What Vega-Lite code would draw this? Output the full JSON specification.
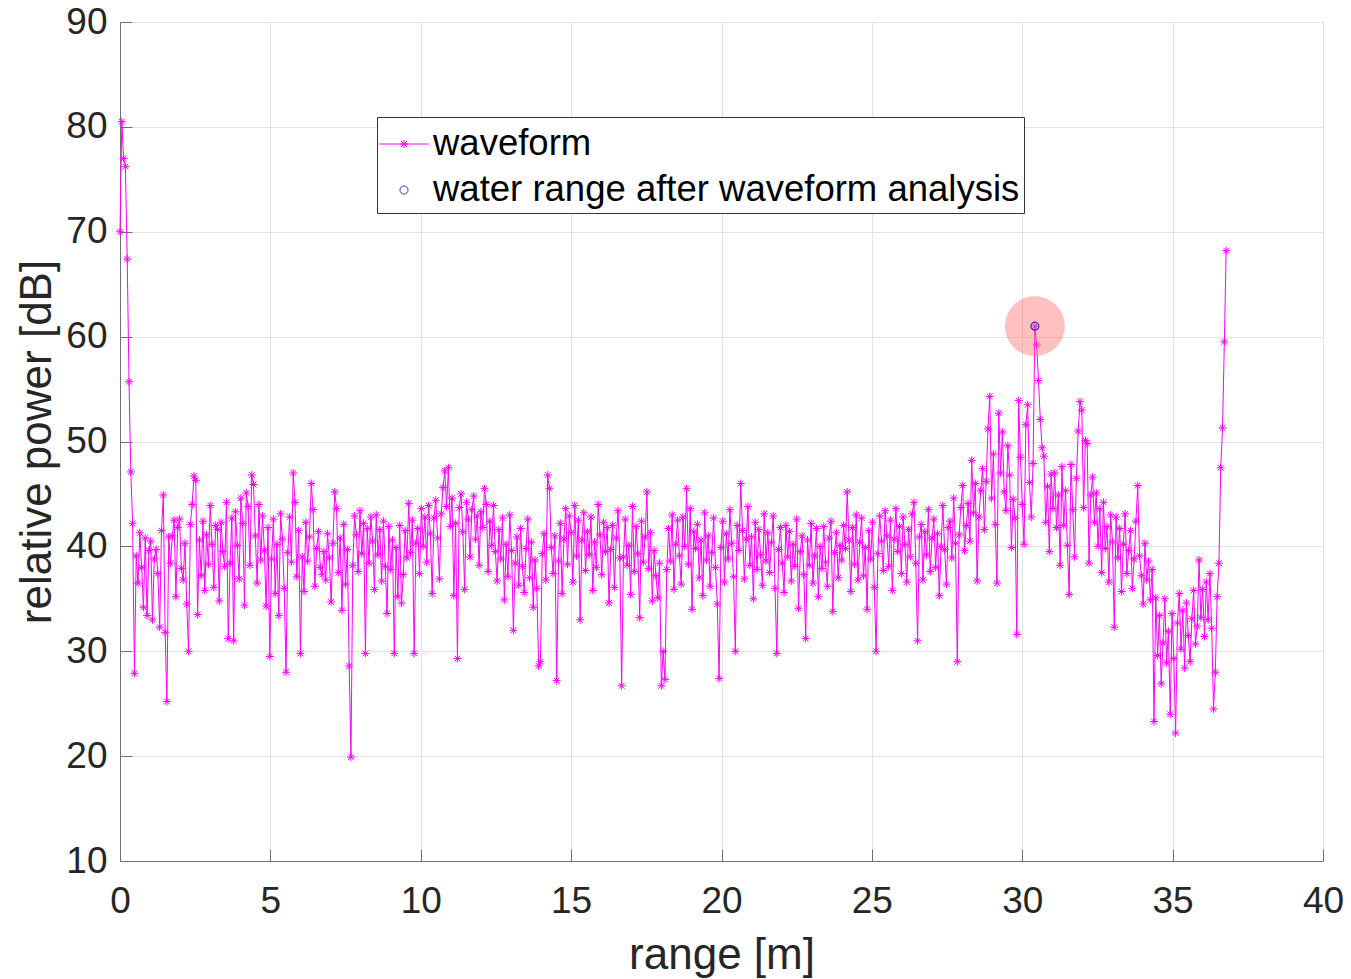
{
"$schema": "https://vega.github.io/schema/vega-lite/v6.json",
"width": 1203, "height": 839,
"autosize": {"type": "none"},
"padding": {"left": 120, "top": 22, "right": 28, "bottom": 118},
"background": "white",
"config": {
  "view": {"stroke": "#707070", "strokeWidth": 1},
  "font": "Liberation Sans",
  "axis": {"labelFont": "Liberation Sans", "titleFont": "Liberation Sans", "labelColor": "#262626", "titleColor": "#262626", "titleFontWeight": "normal", "gridColor": "#e3e3e3", "gridWidth": 1, "domainColor": "#707070", "tickColor": "#707070", "tickSize": -12, "labelFontSize": 37, "titleFontSize": 44}
},
"datasets": {
"wave": [
{"r":0,"p":70.0},{"r":0.06,"p":80.5},{"r":0.12,"p":77.0},{"r":0.18,"p":76.2},{"r":0.24,"p":67.4},{"r":0.3,"p":55.7},{"r":0.36,"p":47.1},{"r":0.42,"p":42.2},{"r":0.48,"p":27.9},{"r":0.54,"p":39.1},
{"r":0.6,"p":36.5},{"r":0.66,"p":41.3},{"r":0.72,"p":38.0},{"r":0.78,"p":34.2},{"r":0.84,"p":40.8},{"r":0.9,"p":33.4},{"r":0.96,"p":39.6},{"r":1.02,"p":40.5},{"r":1.08,"p":33.0},{"r":1.14,"p":38.8},
{"r":1.2,"p":39.7},{"r":1.26,"p":37.4},{"r":1.32,"p":32.3},{"r":1.38,"p":41.5},{"r":1.44,"p":44.9},{"r":1.5,"p":31.8},{"r":1.56,"p":25.2},{"r":1.62,"p":40.9},{"r":1.68,"p":38.4},{"r":1.74,"p":41.0},
{"r":1.8,"p":42.5},{"r":1.86,"p":35.2},{"r":1.92,"p":41.8},{"r":1.98,"p":42.6},{"r":2.04,"p":37.9},{"r":2.1,"p":36.8},{"r":2.16,"p":40.3},{"r":2.22,"p":34.5},{"r":2.28,"p":30.0},{"r":2.34,"p":42.1},
{"r":2.4,"p":44.0},{"r":2.46,"p":46.7},{"r":2.52,"p":46.3},{"r":2.58,"p":33.5},{"r":2.64,"p":40.6},{"r":2.7,"p":37.2},{"r":2.76,"p":42.4},{"r":2.82,"p":35.8},{"r":2.88,"p":41.1},{"r":2.94,"p":38.3},
{"r":3.0,"p":43.9},{"r":3.06,"p":40.2},{"r":3.12,"p":36.1},{"r":3.18,"p":42.0},{"r":3.24,"p":41.6},{"r":3.3,"p":34.8},{"r":3.36,"p":42.3},{"r":3.42,"p":39.5},{"r":3.48,"p":38.1},{"r":3.54,"p":44.2},
{"r":3.6,"p":31.2},{"r":3.66,"p":38.4},{"r":3.72,"p":42.7},{"r":3.78,"p":31.0},{"r":3.84,"p":43.3},{"r":3.9,"p":40.1},{"r":3.96,"p":36.9},{"r":4.02,"p":44.6},{"r":4.08,"p":42.2},{"r":4.14,"p":34.4},
{"r":4.2,"p":45.1},{"r":4.26,"p":43.8},{"r":4.32,"p":38.2},{"r":4.38,"p":46.8},{"r":4.44,"p":45.9},{"r":4.5,"p":41.0},{"r":4.56,"p":36.5},{"r":4.62,"p":44.0},{"r":4.68,"p":38.7},{"r":4.74,"p":42.9},
{"r":4.8,"p":39.6},{"r":4.86,"p":34.3},{"r":4.92,"p":41.8},{"r":4.98,"p":29.5},{"r":5.04,"p":38.8},{"r":5.1,"p":42.6},{"r":5.16,"p":35.5},{"r":5.22,"p":40.2},{"r":5.28,"p":33.4},{"r":5.34,"p":43.1},
{"r":5.4,"p":40.7},{"r":5.46,"p":36.0},{"r":5.52,"p":28.0},{"r":5.58,"p":39.4},{"r":5.64,"p":42.8},{"r":5.7,"p":38.5},{"r":5.76,"p":47.0},{"r":5.82,"p":44.2},{"r":5.88,"p":37.1},{"r":5.94,"p":41.5},
{"r":6.0,"p":29.8},{"r":6.06,"p":39.0},{"r":6.12,"p":35.7},{"r":6.18,"p":42.3},{"r":6.24,"p":38.6},{"r":6.3,"p":40.9},{"r":6.36,"p":46.0},{"r":6.42,"p":43.5},{"r":6.48,"p":36.2},{"r":6.54,"p":39.8},
{"r":6.6,"p":41.4},{"r":6.66,"p":38.0},{"r":6.72,"p":37.3},{"r":6.78,"p":39.5},{"r":6.84,"p":36.8},{"r":6.9,"p":41.2},{"r":6.96,"p":38.9},{"r":7.02,"p":34.7},{"r":7.08,"p":40.3},{"r":7.14,"p":45.2},
{"r":7.2,"p":43.6},{"r":7.26,"p":37.5},{"r":7.32,"p":40.8},{"r":7.38,"p":33.9},{"r":7.44,"p":42.1},{"r":7.5,"p":36.4},{"r":7.56,"p":39.7},{"r":7.62,"p":28.6},{"r":7.68,"p":19.9},{"r":7.74,"p":38.2},
{"r":7.8,"p":42.9},{"r":7.86,"p":41.1},{"r":7.92,"p":37.6},{"r":7.98,"p":43.4},{"r":8.04,"p":39.3},{"r":8.1,"p":42.2},{"r":8.16,"p":29.8},{"r":8.22,"p":41.7},{"r":8.28,"p":38.4},{"r":8.34,"p":42.8},
{"r":8.4,"p":40.5},{"r":8.46,"p":35.9},{"r":8.52,"p":43.0},{"r":8.58,"p":39.2},{"r":8.64,"p":41.6},{"r":8.7,"p":36.7},{"r":8.76,"p":42.4},{"r":8.82,"p":38.1},{"r":8.88,"p":33.6},{"r":8.94,"p":41.9},
{"r":9.0,"p":37.8},{"r":9.06,"p":40.6},{"r":9.12,"p":29.8},{"r":9.18,"p":39.9},{"r":9.24,"p":35.2},{"r":9.3,"p":42.0},{"r":9.36,"p":34.6},{"r":9.42,"p":37.3},{"r":9.48,"p":41.5},{"r":9.54,"p":38.9},
{"r":9.6,"p":44.1},{"r":9.66,"p":39.4},{"r":9.72,"p":42.5},{"r":9.78,"p":29.8},{"r":9.84,"p":40.3},{"r":9.9,"p":41.7},{"r":9.96,"p":37.4},{"r":10.02,"p":43.6},{"r":10.08,"p":40.0},{"r":10.14,"p":42.8},
{"r":10.2,"p":38.5},{"r":10.26,"p":43.9},{"r":10.32,"p":41.2},{"r":10.38,"p":35.5},{"r":10.44,"p":42.7},{"r":10.5,"p":44.4},{"r":10.56,"p":40.8},{"r":10.62,"p":36.9},{"r":10.68,"p":43.1},{"r":10.74,"p":45.6},
{"r":10.8,"p":47.2},{"r":10.86,"p":43.8},{"r":10.92,"p":47.5},{"r":10.98,"p":41.9},{"r":11.04,"p":44.6},{"r":11.1,"p":35.3},{"r":11.16,"p":42.2},{"r":11.22,"p":29.3},{"r":11.28,"p":43.7},{"r":11.34,"p":45.0},
{"r":11.4,"p":41.4},{"r":11.46,"p":35.9},{"r":11.52,"p":44.2},{"r":11.58,"p":42.6},{"r":11.64,"p":39.0},{"r":11.7,"p":43.5},{"r":11.76,"p":44.8},{"r":11.82,"p":40.7},{"r":11.88,"p":42.9},{"r":11.94,"p":38.2},
{"r":12.0,"p":43.3},{"r":12.06,"p":41.8},{"r":12.12,"p":45.5},{"r":12.18,"p":44.0},{"r":12.24,"p":37.6},{"r":12.3,"p":42.4},{"r":12.36,"p":40.1},{"r":12.42,"p":43.9},{"r":12.48,"p":39.5},{"r":12.54,"p":36.7},
{"r":12.6,"p":41.6},{"r":12.66,"p":38.8},{"r":12.72,"p":42.7},{"r":12.78,"p":34.9},{"r":12.84,"p":40.2},{"r":12.9,"p":37.1},{"r":12.96,"p":43.0},{"r":13.02,"p":39.6},{"r":13.08,"p":32.0},{"r":13.14,"p":38.4},
{"r":13.2,"p":40.9},{"r":13.26,"p":36.3},{"r":13.32,"p":41.7},{"r":13.38,"p":38.1},{"r":13.44,"p":35.6},{"r":13.5,"p":39.8},{"r":13.56,"p":42.6},{"r":13.62,"p":37.0},{"r":13.68,"p":40.4},{"r":13.74,"p":34.2},
{"r":13.8,"p":38.7},{"r":13.86,"p":36.0},{"r":13.92,"p":28.6},{"r":13.98,"p":29.0},{"r":14.04,"p":39.3},{"r":14.1,"p":41.2},{"r":14.16,"p":36.8},{"r":14.22,"p":46.8},{"r":14.28,"p":45.5},{"r":14.34,"p":39.9},
{"r":14.4,"p":37.4},{"r":14.46,"p":41.0},{"r":14.52,"p":27.2},{"r":14.58,"p":38.6},{"r":14.64,"p":42.2},{"r":14.7,"p":35.5},{"r":14.76,"p":40.7},{"r":14.82,"p":43.6},{"r":14.88,"p":38.3},{"r":14.94,"p":42.9},
{"r":15.0,"p":41.3},{"r":15.06,"p":36.6},{"r":15.12,"p":43.9},{"r":15.18,"p":39.1},{"r":15.24,"p":42.5},{"r":15.3,"p":33.0},{"r":15.36,"p":40.6},{"r":15.42,"p":43.2},{"r":15.48,"p":37.7},{"r":15.54,"p":41.4},
{"r":15.6,"p":39.2},{"r":15.66,"p":42.8},{"r":15.72,"p":35.8},{"r":15.78,"p":40.4},{"r":15.84,"p":38.0},{"r":15.9,"p":44.0},{"r":15.96,"p":41.1},{"r":16.02,"p":37.3},{"r":16.08,"p":42.3},{"r":16.14,"p":39.5},
{"r":16.2,"p":41.8},{"r":16.26,"p":34.6},{"r":16.32,"p":39.7},{"r":16.38,"p":42.0},{"r":16.44,"p":36.1},{"r":16.5,"p":40.8},{"r":16.56,"p":43.4},{"r":16.62,"p":38.9},{"r":16.68,"p":26.7},{"r":16.74,"p":39.0},
{"r":16.8,"p":42.6},{"r":16.86,"p":38.2},{"r":16.92,"p":40.1},{"r":16.98,"p":35.4},{"r":17.04,"p":43.8},{"r":17.1,"p":37.6},{"r":17.16,"p":41.9},{"r":17.22,"p":39.3},{"r":17.28,"p":33.2},{"r":17.34,"p":42.4},
{"r":17.4,"p":38.5},{"r":17.46,"p":40.9},{"r":17.52,"p":45.2},{"r":17.58,"p":37.9},{"r":17.64,"p":41.3},{"r":17.7,"p":34.8},{"r":17.76,"p":39.6},{"r":17.82,"p":37.2},{"r":17.88,"p":35.1},{"r":17.94,"p":38.4},
{"r":18.0,"p":26.7},{"r":18.06,"p":30.0},{"r":18.12,"p":27.3},{"r":18.18,"p":37.8},{"r":18.24,"p":41.7},{"r":18.3,"p":38.6},{"r":18.36,"p":43.0},{"r":18.42,"p":35.9},{"r":18.48,"p":40.2},{"r":18.54,"p":42.5},
{"r":18.6,"p":39.1},{"r":18.66,"p":36.4},{"r":18.72,"p":42.8},{"r":18.78,"p":40.0},{"r":18.84,"p":45.5},{"r":18.9,"p":38.3},{"r":18.96,"p":43.6},{"r":19.02,"p":34.0},{"r":19.08,"p":41.4},{"r":19.14,"p":39.8},
{"r":19.2,"p":42.1},{"r":19.26,"p":37.0},{"r":19.32,"p":40.6},{"r":19.38,"p":35.3},{"r":19.44,"p":43.2},{"r":19.5,"p":38.7},{"r":19.56,"p":41.0},{"r":19.62,"p":36.2},{"r":19.68,"p":39.4},{"r":19.74,"p":42.7},
{"r":19.8,"p":38.0},{"r":19.86,"p":34.5},{"r":19.92,"p":27.4},{"r":19.98,"p":39.9},{"r":20.04,"p":42.4},{"r":20.1,"p":36.6},{"r":20.16,"p":41.2},{"r":20.22,"p":38.8},{"r":20.28,"p":43.5},{"r":20.34,"p":40.3},
{"r":20.4,"p":37.1},{"r":20.46,"p":30.0},{"r":20.52,"p":42.0},{"r":20.58,"p":39.6},{"r":20.64,"p":46.0},{"r":20.7,"p":41.5},{"r":20.76,"p":36.9},{"r":20.82,"p":40.7},{"r":20.88,"p":43.8},{"r":20.94,"p":38.2},
{"r":21.0,"p":40.9},{"r":21.06,"p":35.0},{"r":21.12,"p":42.3},{"r":21.18,"p":37.8},{"r":21.24,"p":41.6},{"r":21.3,"p":39.2},{"r":21.36,"p":36.3},{"r":21.42,"p":43.1},{"r":21.48,"p":38.6},{"r":21.54,"p":41.3},
{"r":21.6,"p":37.5},{"r":21.66,"p":40.4},{"r":21.72,"p":42.9},{"r":21.78,"p":36.0},{"r":21.84,"p":29.8},{"r":21.9,"p":39.7},{"r":21.96,"p":41.8},{"r":22.02,"p":38.4},{"r":22.08,"p":35.6},{"r":22.14,"p":42.0},
{"r":22.2,"p":39.0},{"r":22.26,"p":41.4},{"r":22.32,"p":36.7},{"r":22.38,"p":40.2},{"r":22.44,"p":38.1},{"r":22.5,"p":42.6},{"r":22.56,"p":34.1},{"r":22.62,"p":39.5},{"r":22.68,"p":41.0},{"r":22.74,"p":37.3},
{"r":22.8,"p":31.2},{"r":22.86,"p":40.6},{"r":22.92,"p":38.2},{"r":22.98,"p":42.2},{"r":23.04,"p":36.5},{"r":23.1,"p":39.1},{"r":23.16,"p":41.7},{"r":23.22,"p":35.2},{"r":23.28,"p":40.0},{"r":23.34,"p":37.9},
{"r":23.4,"p":41.9},{"r":23.46,"p":38.5},{"r":23.52,"p":36.2},{"r":23.58,"p":40.8},{"r":23.64,"p":42.4},{"r":23.7,"p":33.8},{"r":23.76,"p":39.4},{"r":23.82,"p":41.3},{"r":23.88,"p":37.0},{"r":23.94,"p":40.1},
{"r":24.0,"p":38.7},{"r":24.06,"p":42.0},{"r":24.12,"p":39.8},{"r":24.18,"p":45.2},{"r":24.24,"p":40.6},{"r":24.3,"p":35.7},{"r":24.36,"p":41.8},{"r":24.42,"p":38.3},{"r":24.48,"p":43.0},{"r":24.54,"p":36.8},
{"r":24.6,"p":40.4},{"r":24.66,"p":42.7},{"r":24.72,"p":37.2},{"r":24.78,"p":39.9},{"r":24.84,"p":34.0},{"r":24.9,"p":41.5},{"r":24.96,"p":38.8},{"r":25.02,"p":42.3},{"r":25.08,"p":36.1},{"r":25.14,"p":30.0},
{"r":25.2,"p":39.3},{"r":25.26,"p":42.9},{"r":25.32,"p":40.5},{"r":25.38,"p":37.7},{"r":25.44,"p":43.4},{"r":25.5,"p":41.0},{"r":25.56,"p":38.1},{"r":25.62,"p":42.5},{"r":25.68,"p":35.8},{"r":25.74,"p":40.7},
{"r":25.8,"p":43.6},{"r":25.86,"p":39.5},{"r":25.92,"p":41.9},{"r":25.98,"p":37.4},{"r":26.04,"p":42.8},{"r":26.1,"p":40.2},{"r":26.16,"p":36.6},{"r":26.22,"p":41.6},{"r":26.28,"p":39.0},{"r":26.34,"p":43.1},
{"r":26.4,"p":44.2},{"r":26.46,"p":38.4},{"r":26.52,"p":31.0},{"r":26.58,"p":40.9},{"r":26.64,"p":42.1},{"r":26.7,"p":36.8},{"r":26.76,"p":41.4},{"r":26.82,"p":39.2},{"r":26.88,"p":43.5},{"r":26.94,"p":37.6},
{"r":27.0,"p":40.8},{"r":27.06,"p":42.6},{"r":27.12,"p":38.0},{"r":27.18,"p":41.2},{"r":27.24,"p":35.3},{"r":27.3,"p":40.0},{"r":27.36,"p":43.9},{"r":27.42,"p":39.7},{"r":27.48,"p":36.4},{"r":27.54,"p":41.8},
{"r":27.6,"p":42.4},{"r":27.66,"p":38.9},{"r":27.72,"p":44.6},{"r":27.78,"p":40.3},{"r":27.84,"p":29.0},{"r":27.9,"p":41.1},{"r":27.96,"p":43.7},{"r":28.02,"p":45.8},{"r":28.08,"p":39.6},{"r":28.14,"p":42.0},
{"r":28.2,"p":44.1},{"r":28.26,"p":40.5},{"r":28.32,"p":48.2},{"r":28.38,"p":43.2},{"r":28.44,"p":46.0},{"r":28.5,"p":36.7},{"r":28.56,"p":42.8},{"r":28.62,"p":45.3},{"r":28.68,"p":47.4},{"r":28.74,"p":41.6},
{"r":28.8,"p":46.2},{"r":28.86,"p":51.2},{"r":28.92,"p":54.3},{"r":28.98,"p":44.6},{"r":29.04,"p":48.8},{"r":29.1,"p":42.1},{"r":29.16,"p":36.5},{"r":29.22,"p":52.7},{"r":29.28,"p":47.0},{"r":29.34,"p":50.9},
{"r":29.4,"p":45.2},{"r":29.46,"p":43.4},{"r":29.52,"p":49.6},{"r":29.58,"p":46.8},{"r":29.64,"p":39.9},{"r":29.7,"p":44.5},{"r":29.76,"p":42.7},{"r":29.82,"p":31.6},{"r":29.88,"p":53.9},{"r":29.94,"p":48.5},
{"r":30.0,"p":44.0},{"r":30.06,"p":40.2},{"r":30.12,"p":51.6},{"r":30.18,"p":53.5},{"r":30.24,"p":46.1},{"r":30.3,"p":42.8},{"r":30.36,"p":47.9},{"r":30.42,"p":61.0},{"r":30.48,"p":59.2},{"r":30.54,"p":55.8},
{"r":30.6,"p":52.1},{"r":30.66,"p":49.4},{"r":30.72,"p":48.6},{"r":30.78,"p":42.3},{"r":30.84,"p":45.7},{"r":30.9,"p":39.5},{"r":30.96,"p":46.9},{"r":31.02,"p":43.6},{"r":31.08,"p":47.0},{"r":31.14,"p":41.8},
{"r":31.2,"p":44.9},{"r":31.26,"p":38.2},{"r":31.32,"p":47.6},{"r":31.38,"p":42.0},{"r":31.44,"p":45.3},{"r":31.5,"p":40.1},{"r":31.56,"p":35.4},{"r":31.62,"p":47.8},{"r":31.68,"p":43.5},{"r":31.74,"p":39.0},
{"r":31.8,"p":46.5},{"r":31.86,"p":51.0},{"r":31.92,"p":53.8},{"r":31.98,"p":53.0},{"r":32.04,"p":43.7},{"r":32.1,"p":50.1},{"r":32.16,"p":49.8},{"r":32.22,"p":38.4},{"r":32.28,"p":44.9},{"r":32.34,"p":46.6},
{"r":32.4,"p":42.3},{"r":32.46,"p":45.1},{"r":32.52,"p":40.0},{"r":32.58,"p":43.6},{"r":32.64,"p":37.5},{"r":32.7,"p":44.2},{"r":32.76,"p":39.8},{"r":32.82,"p":41.9},{"r":32.88,"p":36.6},{"r":32.94,"p":43.0},
{"r":33.0,"p":40.4},{"r":33.06,"p":32.3},{"r":33.12,"p":42.8},{"r":33.18,"p":38.9},{"r":33.24,"p":41.7},{"r":33.3,"p":35.7},{"r":33.36,"p":40.2},{"r":33.42,"p":43.1},{"r":33.48,"p":37.4},{"r":33.54,"p":39.6},
{"r":33.6,"p":41.5},{"r":33.66,"p":36.0},{"r":33.72,"p":38.8},{"r":33.78,"p":42.4},{"r":33.84,"p":45.8},{"r":33.9,"p":39.1},{"r":33.96,"p":37.2},{"r":34.02,"p":34.5},{"r":34.08,"p":40.3},{"r":34.14,"p":36.8},
{"r":34.2,"p":38.6},{"r":34.26,"p":34.9},{"r":34.32,"p":37.8},{"r":34.38,"p":23.3},{"r":34.44,"p":35.1},{"r":34.5,"p":29.6},{"r":34.56,"p":33.4},{"r":34.62,"p":26.9},{"r":34.68,"p":30.8},{"r":34.74,"p":35.0},
{"r":34.8,"p":28.9},{"r":34.86,"p":31.9},{"r":34.92,"p":24.0},{"r":34.98,"p":33.6},{"r":35.04,"p":29.3},{"r":35.1,"p":22.2},{"r":35.16,"p":32.7},{"r":35.22,"p":35.5},{"r":35.28,"p":30.2},{"r":35.34,"p":33.9},
{"r":35.4,"p":28.4},{"r":35.46,"p":34.6},{"r":35.52,"p":31.5},{"r":35.58,"p":29.0},{"r":35.64,"p":33.1},{"r":35.7,"p":35.8},{"r":35.76,"p":30.7},{"r":35.82,"p":32.4},{"r":35.88,"p":38.7},{"r":35.94,"p":33.2},
{"r":36.0,"p":35.9},{"r":36.06,"p":31.4},{"r":36.12,"p":36.6},{"r":36.18,"p":33.0},{"r":36.24,"p":37.4},{"r":36.3,"p":32.2},{"r":36.36,"p":24.5},{"r":36.42,"p":28.0},{"r":36.48,"p":35.2},{"r":36.54,"p":38.4},
{"r":36.6,"p":47.5},{"r":36.66,"p":51.3},{"r":36.72,"p":59.5},{"r":36.78,"p":68.2}
],
"water": [{"r":30.42,"p":61.0}]
},
"encoding": {
  "x": {"field": "r", "type": "quantitative", "scale": {"domain": [0, 40], "nice": false, "zero": false},
        "axis": {"values": [0,5,10,15,20,25,30,35,40], "title": "range [m]", "labelPadding": 34, "titlePadding": 14, "labelFlush": false}},
  "y": {"field": "p", "type": "quantitative", "scale": {"domain": [10, 90], "nice": false, "zero": false},
        "axis": {"values": [10,20,30,40,50,60,70,80,90], "title": "relative power [dB]", "labelPadding": 25, "titlePadding": 6, "labelFlush": false}}
},
"layer": [
  {"data": {"name": "wave"}, "mark": {"type": "line", "strokeWidth": 1},
   "encoding": {"color": {"datum": "waveform", "type": "nominal",
      "scale": {"domain": ["waveform", "water range after waveform analysis"], "range": ["#ff00ff", "#3434b8"]},
      "legend": {"title": null, "orient": "none", "legendX": 257, "legendY": 95, "labelFontSize": 36.5, "labelFont": "Liberation Sans", "labelColor": "#000000", "labelLimit": 0, "symbolSize": 2025, "symbolStrokeWidth": 1, "labelOffset": 6, "rowPadding": 4, "padding": 4, "strokeColor": "#333333", "fillColor": "#ffffff",
        "encode": {"symbols": {"update": {"shape": {"signal": "datum.value === 'waveform' ? 'M-1.1,0L1.1,0M-0.18,0L0.18,0M0,-0.18L0,0.18M-0.13,-0.13L0.13,0.13M-0.13,0.13L0.13,-0.13' : 'M0.18,0A0.18,0.18 0 1,1 -0.18,0A0.18,0.18 0 1,1 0.18,0Z'"}, "fill": {"value": "transparent"}, "strokeWidth": {"value": 1}}}}}}}},
  {"data": {"name": "wave"}, "mark": {"type": "point", "filled": false, "shape": "M-1,0L1,0M0,-1L0,1M-0.72,-0.72L0.72,0.72M-0.72,0.72L0.72,-0.72", "size": 64, "stroke": "#ff00ff", "strokeWidth": 1, "opacity": 1}},
  {"data": {"name": "water"}, "mark": {"type": "point", "filled": true, "shape": "circle", "size": 3600, "fill": "#ff6a6a", "fillOpacity": 0.42, "strokeWidth": 0}},
  {"data": {"name": "water"}, "mark": {"type": "point", "filled": false, "shape": "circle", "size": 64, "strokeWidth": 1.2, "opacity": 1},
   "encoding": {"color": {"datum": "water range after waveform analysis", "type": "nominal"}}}
]
}
